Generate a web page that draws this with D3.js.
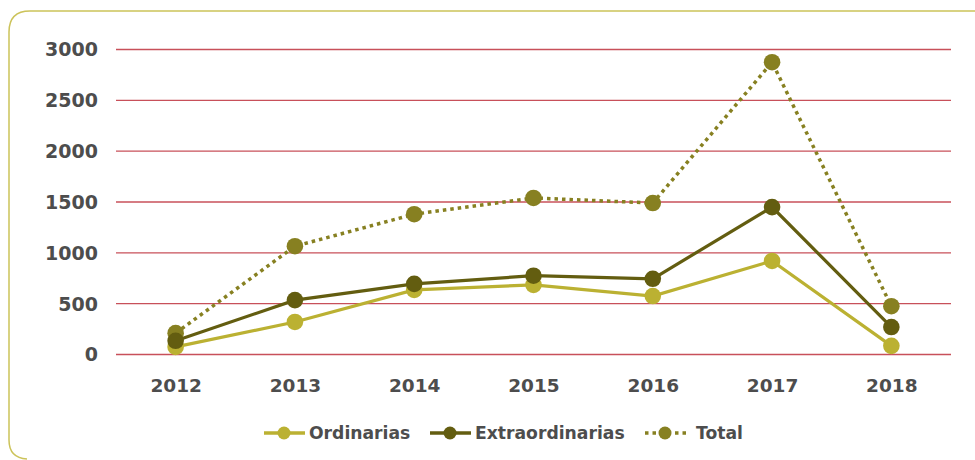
<!DOCTYPE html>
<html><head><meta charset="utf-8">
<script src="https://cdn.jsdelivr.net/npm/d3@7"></script>
<style>
html,body{margin:0;padding:0;background:#fff;}
svg{display:block;}
text{font-family:"DejaVu Sans",sans-serif;font-weight:bold;fill:#4d4d4d;}
</style></head>
<body><svg id="c" width="975" height="460"></svg>
<script>
const years = ["2012","2013","2014","2015","2016","2017","2018"];
const ordinarias = [70, 315, 630, 680, 570, 915, 80];
const extraordinarias = [130, 530, 690, 770, 740, 1445, 265];
const total = [205, 1060, 1375, 1535, 1485, 2870, 470];
const yTicks = [0, 500, 1000, 1500, 2000, 2500, 3000];
const seriesNames = ["Ordinarias", "Extraordinarias", "Total"];

const colors = {"Ordinarias":"#bbb132","Extraordinarias":"#635d10","Total":"#878021"};
const series = [
  {name:"Ordinarias", values:ordinarias, dash:null},
  {name:"Extraordinarias", values:extraordinarias, dash:null},
  {name:"Total", values:total, dash:"3.5,4"}
];

const svg = d3.select("#c");
// frame
svg.append("path")
  .attr("d","M9,440 L9,32 Q9,11 30,11 L1000,11")
  .attr("fill","none").attr("stroke","#ccc35a").attr("stroke-width",1.5);
svg.append("path")
  .attr("d","M9,440 Q9,458 27,459")
  .attr("fill","none").attr("stroke","#ccc35a").attr("stroke-width",1.5);

const x = d3.scalePoint().domain(years).range([116,951]).padding(0.5);
const y = d3.scaleLinear().domain([0,3000]).range([354,49]);

const yAxis = d3.axisLeft(y).tickValues(yTicks).tickFormat(d3.format("d")).tickSize(0).tickPadding(18);
const gy = svg.append("g").attr("transform","translate(116,0)").call(yAxis);
gy.select(".domain").remove();
gy.selectAll("text").style("font-size","19px").attr("dy","0.36em").style("fill","#4d4d4d");
svg.append("g").selectAll("line").data(yTicks).join("line")
  .attr("x1",116).attr("x2",951)
  .attr("y1",d=>y(d)+0.5).attr("y2",d=>y(d)+0.5)
  .attr("stroke","#c8505a").attr("stroke-width",1.3);

const xAxis = d3.axisBottom(x).tickSize(0).tickPadding(22);
const gx = svg.append("g").attr("transform","translate(0,361)").call(xAxis);
gx.select(".domain").remove();
gx.selectAll("text").style("font-size","18.5px").style("fill","#4d4d4d").attr("dy","0.5em");

const line = d3.line().x((d,i)=>x(years[i])).y(d=>y(d));

series.forEach(s=>{
  svg.append("path").datum(s.values)
    .attr("d",line).attr("fill","none")
    .attr("stroke",colors[s.name]).attr("stroke-width",s.dash?3.5:3.2)
    .attr("stroke-dasharray",s.dash);
});
[series[2], series[0], series[1]].forEach(s=>{
  svg.append("g").selectAll("circle").data(s.values).join("circle")
    .attr("cx",(d,i)=>x(years[i])).attr("cy",d=>y(d)).attr("r",8.3)
    .attr("fill",colors[s.name]);
});

// legend
const legX = [264, 430, 645];
const legY = 433;
const lg = svg.append("g");
series.forEach((s,i)=>{
  const g = lg.append("g").attr("transform",`translate(${legX[i]},${legY})`);
  g.append("line").attr("x1",0).attr("x2",41).attr("y1",0).attr("y2",0)
    .attr("stroke",colors[s.name]).attr("stroke-width",3.5)
    .attr("stroke-dasharray",s.dash);
  g.append("circle").attr("cx",20).attr("cy",0).attr("r",6.5).attr("fill",colors[s.name]);
  g.append("text").attr("x", i===2?51:45).attr("y",0).attr("dy","0.36em")
    .style("font-size","17.2px").text(s.name);
});
</script></body></html>
